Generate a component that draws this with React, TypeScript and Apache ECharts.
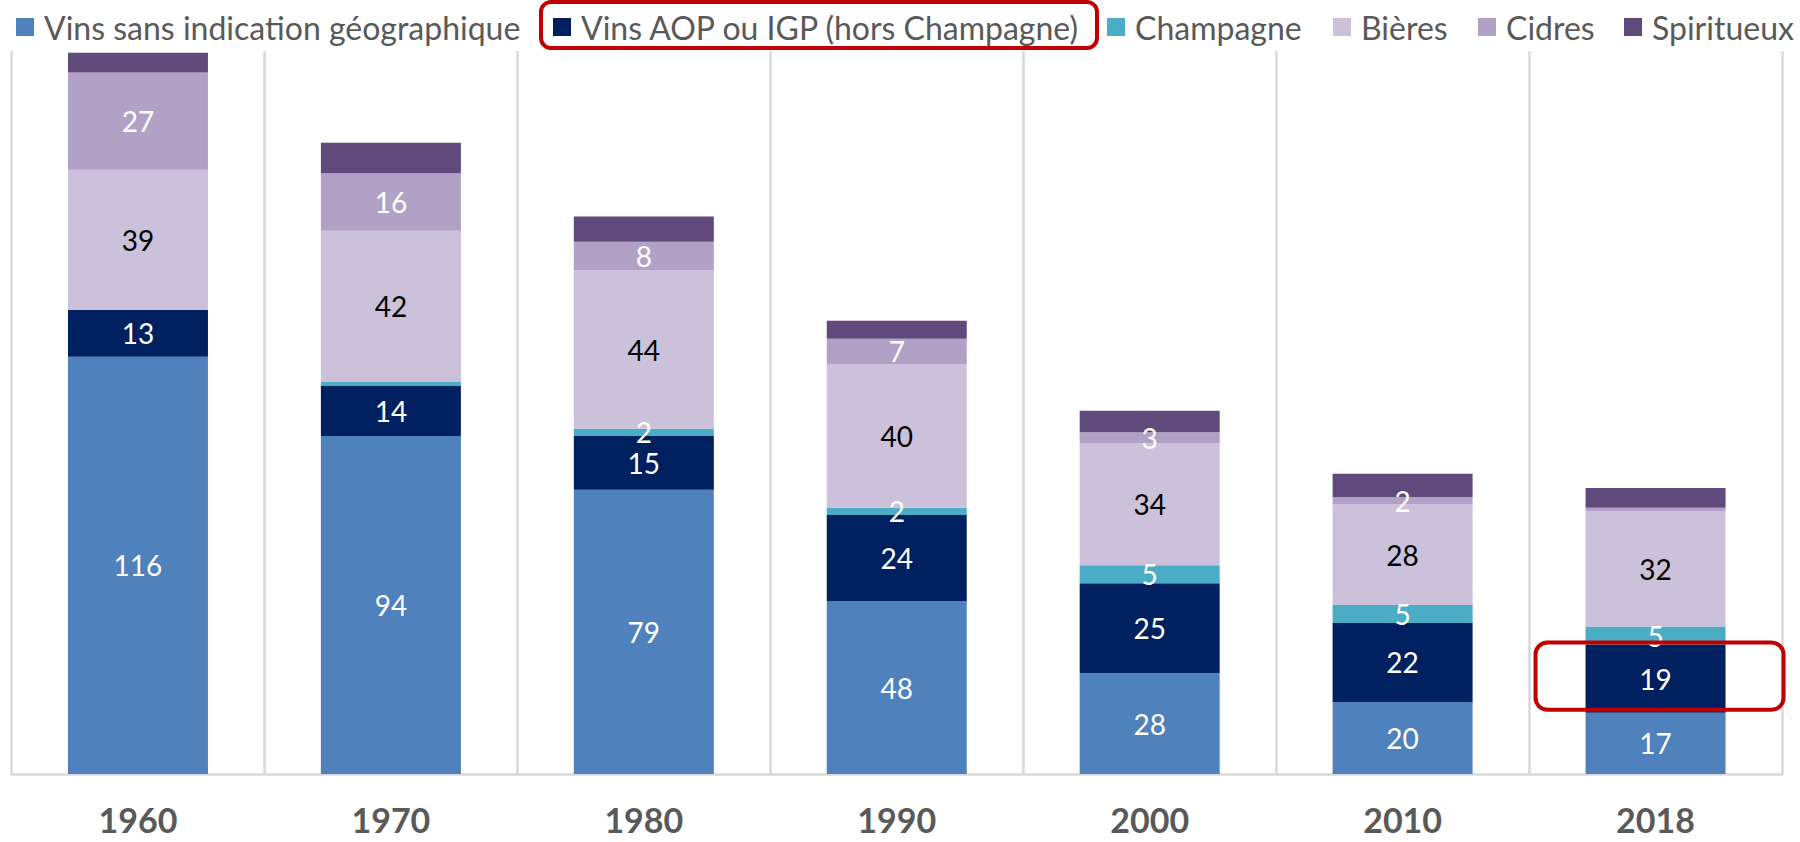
import React, { useEffect, useRef } from "react";
import * as echarts from "echarts";

const categories = ["1960", "1970", "1980", "1990", "2000", "2010", "2018"];
const seriesNames = [
  "Vins sans indication géographique",
  "Vins AOP ou IGP (hors Champagne)",
  "Champagne",
  "Bières",
  "Cidres",
  "Spiritueux",
];
const vsig = [116, 94, 79, 48, 28, 20, 17];
const aop = [13, 14, 15, 24, 25, 22, 19];
const champagne = [0, 1, 2, 2, 5, 5, 5];
const bieres = [39, 42, 44, 40, 34, 28, 32];
const cidres = [27, 16, 8, 7, 3, 2, 1];
const spiritueux = [5.5, 8.5, 7, 5, 6, 6.5, 5.5];

const colors = ["#4F81BD", "#002060", "#4BACC6", "#CCC1DA", "#B2A1C7", "#604A7B"];
const labelColors = ["#ffffff", "#ffffff", "#ffffff", "#000000", "#ffffff", null];
const legendLeft = [16, 553, 1107, 1333, 1478, 1624];

export default function App() {
  const ref = useRef<HTMLDivElement>(null);
  useEffect(() => {
    document.body.style.margin = "0";
    if (!ref.current) return;
    const chart = echarts.init(ref.current, null, { renderer: "svg" });
    const dataSets = [vsig, aop, champagne, bieres, cidres, spiritueux];
    const font = "Lato, 'Open Sans', sans-serif";
    const option: any = {
      animation: false,
      backgroundColor: "#ffffff",
      grid: { left: 11.5, right: 18, top: 51, bottom: 68, containLabel: false },
      legend: seriesNames.map((n, i) => ({
        data: [n],
        left: legendLeft[i],
        top: 11,
        padding: 0,
        itemGap: 0,
        itemWidth: 18,
        itemHeight: 18,
        icon: "rect",
        selectedMode: false,
        textStyle: { fontFamily: font, fontSize: 32, color: "#595959", padding: [0, 0, 0, 5] },
      })),
      xAxis: {
        type: "category",
        data: categories,
        boundaryGap: true,
        axisLine: { show: true, lineStyle: { color: "#d9d9d9", width: 2.5 } },
        axisTick: { show: false },
        splitLine: { show: true, lineStyle: { color: "#d9d9d9", width: 2.5 } },
        axisLabel: {
          fontFamily: font,
          fontWeight: "bold",
          fontSize: 34,
          lineHeight: 30,
          color: "#595959",
          margin: 30,
        },
      },
      yAxis: {
        type: "value",
        min: 0,
        max: 201,
        show: false,
        splitLine: { show: false },
      },
      series: seriesNames.map((n, i) => ({
        name: n,
        type: "bar",
        stack: "total",
        barWidth: 140,
        data: dataSets[i],
        itemStyle: { color: colors[i] },
        label: {
          show: labelColors[i] !== null,
          position: "inside",
          color: labelColors[i] || "#fff",
          fontFamily: font,
          fontSize: 28,
          formatter: (p: any) => (p.value >= 2 ? String(p.value) : ""),
        },
      })),
    };
    chart.setOption(option);

    const idx = categories.length - 1;
    const top = chart.convertToPixel({ gridIndex: 0 } as any, [categories[idx], vsig[idx] + aop[idx]]) as number[];
    const bottom = chart.convertToPixel({ gridIndex: 0 } as any, [categories[idx], vsig[idx]]) as number[];
    chart.setOption({
      graphic: [
        {
          type: "rect",
          shape: { x: 541, y: 2, width: 556, height: 46, r: 10 },
          style: { fill: "none", stroke: "#C00000", lineWidth: 4 },
          z: 100,
        },
        {
          type: "rect",
          shape: {
            x: top[0] - 120,
            y: top[1] - 2,
            width: 248,
            height: bottom[1] - top[1] - 1,
            r: 12,
          },
          style: { fill: "none", stroke: "#C00000", lineWidth: 4 },
          z: 100,
        },
      ],
    });
    return () => chart.dispose();
  }, []);
  return <div ref={ref} style={{ width: 1800, height: 842 }} />;
}
